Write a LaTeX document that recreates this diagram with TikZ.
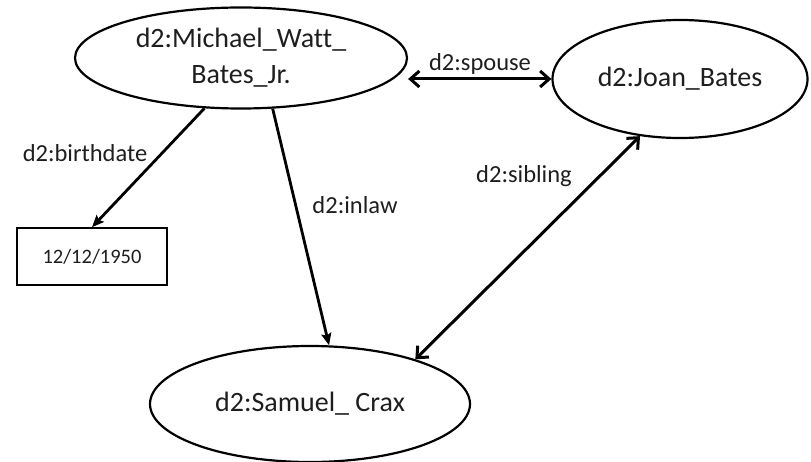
\documentclass[tikz,border=0pt]{standalone}
\usepackage{fontspec}
\setmainfont{Carlito}[Ligatures=NoCommon]
\usetikzlibrary{shapes.geometric,arrows.meta}
\definecolor{ink}{HTML}{1E1E1E}
\tikzset{
  entity/.style={ellipse, draw=black, line width=2.2pt, inner sep=0pt,
    text=ink, font=\fontsize{28}{36}\selectfont, align=center},
  literal/.style={rectangle, draw=black, line width=1.6pt, inner sep=0pt,
    minimum width=150pt, minimum height=57pt, text=ink,
    font=\fontsize{20.5}{24}\selectfont},
  rel/.style={text=ink, font=\fontsize{24.5}{28}\selectfont, inner sep=0pt},
  link/.style={line width=2.8pt, -{Stealth[length=12pt,width=10pt,inset=2pt]}},
  bilink/.style={line width=3pt,
    {Straight Barb[length=9pt,width=16pt]}-{Straight Barb[length=9pt,width=16pt]}}
}
\begin{document}
\begin{tikzpicture}[x=1pt,y=-1pt]
  \useasboundingbox (0,0) rectangle (811,462);

  % resources
  \node[entity, minimum width=332pt, minimum height=101pt] (michael) at (241,58)
    {d2:Michael\_Watt\_\\Bates\_Jr.};
  \node[entity, minimum width=255pt, minimum height=118pt] (joan) at (680,79)
    {d2:Joan\_Bates};
  \node[entity, minimum width=320pt, minimum height=116pt] (samuel) at (310,404)
    {d2:Samuel\_ Crax};

  % literal value
  \node[literal] (date) at (92,256.5) {12/12/1950};

  % properties
  \draw[bilink] (michael.east |- joan.west) -- (joan.west);
  \draw[link] (michael.-126) -- (date.north);
  \draw[link] (michael.-58) -- (samuel.72);
  \draw[bilink] (joan.-125) -- (samuel.23);

  % property labels
  \node[rel] (lspouse) at (480,64) {d2:spouse};
  \node[rel] (lbirth) at (85,153) {d2:birthdate};
  \node[rel] (linlaw) at (355,205) {d2:inlaw};
  \node[rel] (lsibling) at (524,176) {d2:sibling};
\end{tikzpicture}
\end{document}
